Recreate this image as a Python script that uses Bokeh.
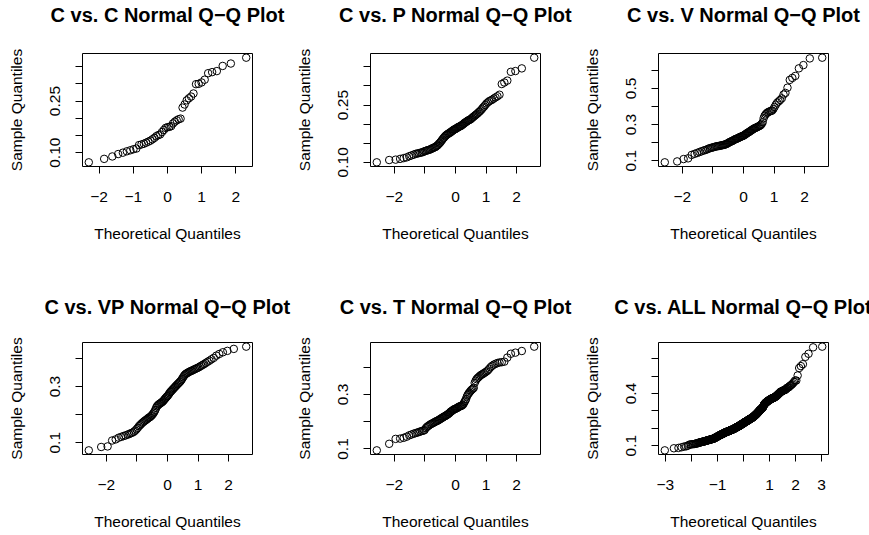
from statistics import NormalDist

from bokeh.embed import file_html
from bokeh.layouts import gridplot
from bokeh.models import FixedTicker, Range1d, Title
from bokeh.plotting import figure
from bokeh.resources import INLINE

# ---------------- data (sorted sample quantiles) ----------------
titles = [
    "C vs. C Normal Q\u2212Q Plot",
    "C vs. P Normal Q\u2212Q Plot",
    "C vs. V Normal Q\u2212Q Plot",
    "C vs. VP Normal Q\u2212Q Plot",
    "C vs. T Normal Q\u2212Q Plot",
    "C vs. ALL Normal Q\u2212Q Plot",
]

c_vs_c = [0.072, 0.082, 0.089, 0.096, 0.100, 0.104, 0.107, 0.110, 0.112, 0.122,
          0.124, 0.126, 0.129, 0.132, 0.135, 0.139, 0.143, 0.148, 0.151, 0.153,
          0.160, 0.166, 0.172, 0.174, 0.175, 0.177, 0.185, 0.190, 0.194, 0.197,
          0.199, 0.231, 0.240, 0.252, 0.258, 0.263, 0.272, 0.299, 0.300, 0.304,
          0.312, 0.331, 0.334, 0.337, 0.352, 0.359, 0.376]

c_vs_p = [0.100, 0.106, 0.107, 0.109, 0.111, 0.113, 0.116, 0.118, 0.120, 0.122,
          0.123, 0.124, 0.125, 0.126, 0.127, 0.129, 0.130, 0.131, 0.132, 0.133,
          0.134, 0.135, 0.137, 0.138, 0.139, 0.140, 0.142, 0.144, 0.146, 0.149,
          0.151, 0.154, 0.157, 0.160, 0.163, 0.165, 0.168, 0.170, 0.172, 0.173,
          0.175, 0.176, 0.177, 0.179, 0.180, 0.182, 0.183, 0.185, 0.186, 0.187,
          0.188, 0.189, 0.191, 0.192, 0.193, 0.194, 0.195, 0.196, 0.198, 0.199,
          0.201, 0.203, 0.204, 0.206, 0.207, 0.209, 0.210, 0.211, 0.212, 0.214,
          0.216, 0.218, 0.220, 0.222, 0.224, 0.226, 0.228, 0.231, 0.233, 0.236,
          0.239, 0.243, 0.246, 0.250, 0.254, 0.257, 0.260, 0.262, 0.264, 0.267,
          0.270, 0.273, 0.277, 0.305, 0.309, 0.314, 0.337, 0.339, 0.346, 0.374]

c_vs_v = [0.091, 0.096, 0.109, 0.113, 0.132, 0.138, 0.143, 0.148, 0.152, 0.156,
          0.159, 0.162, 0.166, 0.169, 0.171, 0.173, 0.175, 0.177, 0.179, 0.180,
          0.181, 0.182, 0.183, 0.185, 0.186, 0.187, 0.188, 0.190, 0.192, 0.194,
          0.197, 0.200, 0.203, 0.205, 0.207, 0.209, 0.211, 0.214, 0.217, 0.219,
          0.221, 0.222, 0.224, 0.226, 0.229, 0.231, 0.233, 0.234, 0.236, 0.238,
          0.240, 0.243, 0.246, 0.249, 0.252, 0.255, 0.257, 0.260, 0.263, 0.266,
          0.269, 0.272, 0.275, 0.278, 0.280, 0.282, 0.284, 0.287, 0.289, 0.291,
          0.294, 0.298, 0.304, 0.313, 0.335, 0.348, 0.356, 0.362, 0.367, 0.370,
          0.373, 0.375, 0.377, 0.385, 0.397, 0.410, 0.421, 0.428, 0.436, 0.445,
          0.466, 0.475, 0.504, 0.547, 0.558, 0.569, 0.611, 0.629, 0.666, 0.670]

c_vs_vp = [0.073, 0.085, 0.087, 0.108, 0.112, 0.118, 0.121, 0.124, 0.126, 0.129,
           0.131, 0.134, 0.136, 0.139, 0.143, 0.148, 0.153, 0.159, 0.163, 0.167,
           0.171, 0.174, 0.177, 0.180, 0.182, 0.185, 0.188, 0.190, 0.192, 0.195,
           0.198, 0.202, 0.206, 0.211, 0.217, 0.224, 0.230, 0.233, 0.236, 0.238,
           0.240, 0.242, 0.244, 0.246, 0.249, 0.252, 0.256, 0.259, 0.262, 0.265,
           0.268, 0.272, 0.276, 0.280, 0.283, 0.286, 0.289, 0.292, 0.295, 0.298,
           0.301, 0.304, 0.307, 0.310, 0.313, 0.316, 0.319, 0.323, 0.328, 0.333,
           0.338, 0.342, 0.345, 0.347, 0.349, 0.351, 0.353, 0.355, 0.356, 0.358,
           0.360, 0.362, 0.364, 0.366, 0.368, 0.371, 0.374, 0.377, 0.380, 0.384,
           0.388, 0.392, 0.397, 0.402, 0.410, 0.416, 0.422, 0.427, 0.434, 0.442]

c_vs_t = [0.095, 0.119, 0.137, 0.138, 0.141, 0.145, 0.150, 0.153, 0.156, 0.158,
          0.160, 0.162, 0.164, 0.166, 0.167, 0.169, 0.176, 0.181, 0.184, 0.187,
          0.190, 0.192, 0.194, 0.196, 0.198, 0.200, 0.202, 0.203, 0.205, 0.207,
          0.209, 0.211, 0.213, 0.215, 0.217, 0.219, 0.220, 0.222, 0.224, 0.226,
          0.228, 0.230, 0.233, 0.236, 0.238, 0.240, 0.242, 0.244, 0.246, 0.247,
          0.248, 0.249, 0.251, 0.253, 0.255, 0.256, 0.257, 0.258, 0.260, 0.262,
          0.266, 0.272, 0.277, 0.283, 0.292, 0.298, 0.303, 0.307, 0.311, 0.315,
          0.318, 0.321, 0.324, 0.342, 0.350, 0.356, 0.360, 0.363, 0.367, 0.370,
          0.373, 0.375, 0.378, 0.381, 0.384, 0.388, 0.394, 0.400, 0.405, 0.409,
          0.412, 0.415, 0.417, 0.418, 0.420, 0.435, 0.449, 0.453, 0.459, 0.475]

# ALL = the four comparison samples pooled
c_vs_all = sorted(c_vs_p + c_vs_v + c_vs_vp + c_vs_t)

# tick positions and the labels R kept (overlapping ones dropped)
x_ticks_a = [-2, -1, 0, 1, 2]
x_labels_c = ["\u22122", "\u22121", "0", "1", "2"]
x_labels_b = ["\u22122", "", "0", "1", "2"]
x_ticks_all = [-3, -2, -1, 0, 1, 2, 3]
x_labels_all = ["\u22123", "", "\u22121", "", "1", "2", "3"]

y_ticks_cp = [0.10, 0.15, 0.20, 0.25, 0.30, 0.35]
y_labels_cp = ["0.10", "", "", "0.25", "", ""]
y_ticks_v = [0.1, 0.2, 0.3, 0.4, 0.5, 0.6]
y_labels_v = ["0.1", "", "0.3", "", "0.5", ""]
y_ticks_vt = [0.1, 0.2, 0.3, 0.4]
y_labels_vt = ["0.1", "", "0.3", ""]
y_labels_all = ["0.1", "", "", "0.4", "", ""]

samples = [c_vs_c, c_vs_p, c_vs_v, c_vs_vp, c_vs_t, c_vs_all]
x_spec = [(x_ticks_a, x_labels_c), (x_ticks_a, x_labels_b), (x_ticks_a, x_labels_b),
          (x_ticks_a, x_labels_b), (x_ticks_a, x_labels_b), (x_ticks_all, x_labels_all)]
y_spec = [(y_ticks_cp, y_labels_cp), (y_ticks_cp, y_labels_cp), (y_ticks_v, y_labels_v),
          (y_ticks_vt, y_labels_vt), (y_ticks_vt, y_labels_vt), (y_ticks_v, y_labels_all)]

FONT = "Liberation Sans"
LBL = "15.5px"

COL_LEFT = [82, 77, 79]
COL_RIGHT = [40, 39, 42]
ROW_TOP = [53, 74]
ROW_FRAME = [113, 112]
ROW_BOTTOM = [102, 81]
ROW_GAP = [25, 22]


def theoretical(n):
    a = 3 / 8 if n <= 10 else 0.5
    nd = NormalDist()
    return [nd.inv_cdf((i + 1 - a) / (n + 1 - 2 * a)) for i in range(n)]


def padded(vals):
    lo, hi = min(vals), max(vals)
    d = 0.04 * (hi - lo)
    return Range1d(lo - d, hi + d)


def panel(k):
    row, col = k // 3, k % 3
    ys = sorted(samples[k])
    xs = theoretical(len(ys))
    xr, yr = padded(xs), padded(ys)
    p = figure(frame_width=170, frame_height=ROW_FRAME[row],
               min_border_left=COL_LEFT[col], min_border_right=COL_RIGHT[col],
               min_border_top=ROW_TOP[row], min_border_bottom=ROW_BOTTOM[row],
               x_range=xr, y_range=yr,
               toolbar_location=None, output_backend="svg",
               title=titles[k])
    p.scatter(xs, ys, marker="circle", size=7.5, fill_color=None,
              line_color="black", line_width=1)

    # main title (outermost panel above the frame)
    p.title.text_font = FONT
    p.title.text_font_style = "bold"
    p.title.text_font_size = "20px"
    p.title.align = "center"
    p.title.standoff = 0
    p.title.text_color = "black"
    # invisible spacer between the title and the frame
    p.add_layout(Title(text=" ", text_font_size="1px", standoff=ROW_GAP[row],
                       text_color="white"), "above")

    p.xgrid.visible = False
    p.ygrid.visible = False
    p.outline_line_color = "black"
    p.outline_line_width = 1
    p.outline_line_alpha = 1
    p.background_fill_color = "white"
    p.border_fill_color = "white"

    xt, xl = x_spec[k]
    yt, yl = y_spec[k]
    p.xaxis.ticker = FixedTicker(ticks=xt, minor_ticks=[])
    p.xaxis.major_label_overrides = {t: l for t, l in zip(xt, xl)}
    p.yaxis.ticker = FixedTicker(ticks=yt, minor_ticks=[])
    p.yaxis.major_label_overrides = {t: l for t, l in zip(yt, yl)}
    p.yaxis.major_label_orientation = "vertical"

    p.xaxis.axis_label = "Theoretical Quantiles"
    p.yaxis.axis_label = "Sample Quantiles"
    for ax in (p.xaxis, p.yaxis):
        ax.axis_line_color = None
        ax.major_tick_in = 0
        ax.major_tick_out = 7
        ax.major_tick_line_color = "black"
        ax.major_tick_line_width = 1
        ax.minor_tick_line_color = None
        ax.major_label_text_font = FONT
        ax.major_label_text_font_size = LBL
        ax.major_label_text_color = "black"
        ax.axis_label_text_font = FONT
        ax.axis_label_text_font_size = LBL
        ax.axis_label_text_font_style = "normal"
        ax.axis_label_text_color = "black"
    p.xaxis.major_label_standoff = 18
    p.xaxis.axis_label_standoff = 20
    p.yaxis.major_label_standoff = 15
    p.yaxis.axis_label_standoff = 23
    return p


figs = [panel(k) for k in range(6)]
grid = gridplot([figs[0:3], figs[3:6]], toolbar_location=None)

open("out.html", "w").write(file_html(grid, INLINE))
